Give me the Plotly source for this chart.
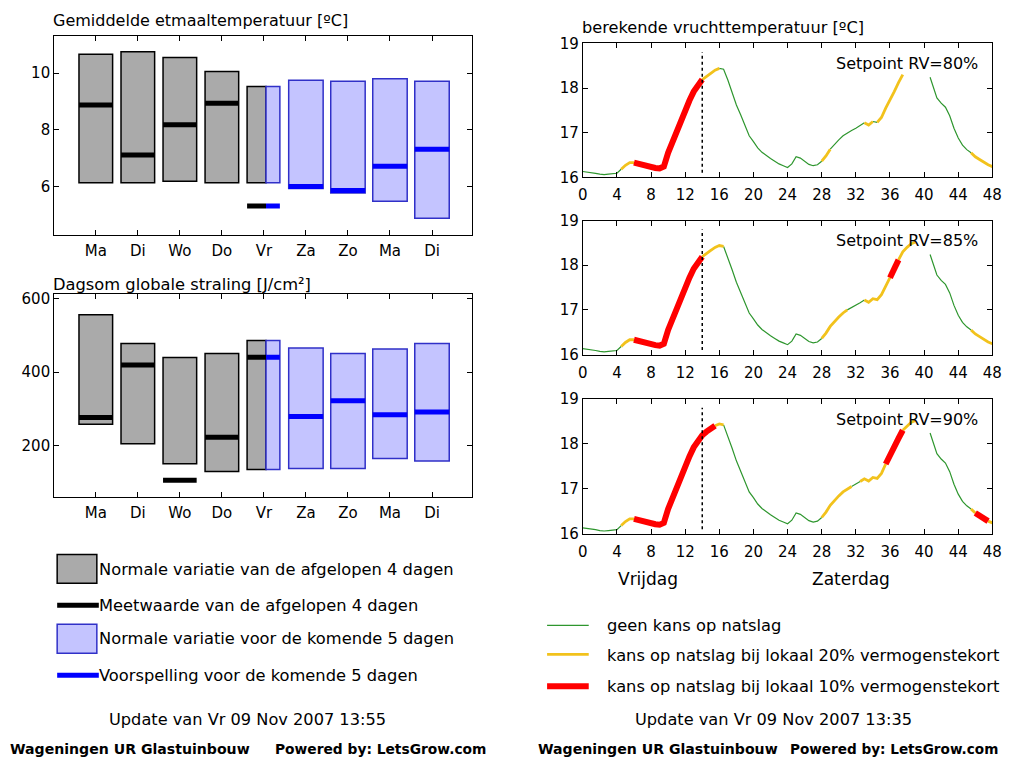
import plotly.graph_objects as go

W, H = 1013, 764
# measured mapping of page pixels to the photographed picture (used to place things)
SX, BX = 0.9934, 2.4
SY, BY = 0.977, 8.3

# ---------------- data: left charts ----------------
DAYS = ["Ma", "Di", "Wo", "Do", "Vr", "Za", "Zo", "Ma", "Di"]
PAST_IDX = [0, 1, 2, 3, 4]
FUT_IDX = [4, 5, 6, 7, 8]

TEMP_HIGH = [10.66, 10.75, 10.54, 10.05, 9.53, 9.75, 9.71, 9.80, 9.71]
TEMP_LOW = [6.15, 6.15, 6.20, 6.15, 6.15, 5.95, 5.79, 5.50, 4.90]
TEMP_MEAS = [8.88, 7.12, 8.18, 8.94, 5.33]       # Ma..Vr (measured)
TEMP_FORECAST = [5.33, 6.02, 5.88, 6.73, 7.32]   # Vr..Di (forecast)

RAD_HIGH = [556, 478, 440, 451, 486, 466, 451, 463, 478]
RAD_LOW = [259, 206, 152, 131, 136, 139, 139, 166, 159]
RAD_MEAS = [277, 420, 107, 224, 441]
RAD_FORECAST = [441, 280, 323, 285, 292]

# ---------------- data: right charts ----------------
HOUR_TICKS = [0, 4, 8, 12, 16, 20, 24, 28, 32, 36, 40, 44, 48]
HOURS = [0.0, 0.5, 1.0, 1.5, 2.0, 2.5, 3.0, 3.5, 4.0, 4.5, 5.0, 5.5, 6.0, 6.5, 7.0, 7.5,
         8.0, 8.5, 9.0, 9.5, 10.0, 10.5, 11.0, 11.5, 12.0, 12.5, 13.0, 13.5, 14.0, 14.5,
         15.0, 15.5, 16.0, 16.5, 17.0, 17.5, 18.0, 18.5, 19.0, 19.5, 20.0, 20.5, 21.0,
         21.5, 22.0, 22.5, 23.0, 23.5, 24.0, 24.5, 25.0, 25.5, 26.0, 26.5, 27.0, 27.5,
         28.0, 28.5, 29.0, 29.5, 30.0, 30.5, 31.0, 31.5, 32.0, 32.5, 33.0, 33.5, 34.0,
         34.5, 35.0, 35.5, 36.0, 36.5, 37.0, 37.5, 38.0, 38.5, 39.0, 40.0, 40.7, 41.0,
         41.5, 42.0, 42.5, 43.0, 43.5, 44.0, 44.5, 45.0, 45.5, 46.0, 46.5, 47.0, 47.5, 48.0]
FRUIT_TEMP = [16.13, 16.12, 16.10, 16.09, 16.07, 16.06, 16.07, 16.08, 16.09, 16.18, 16.27,
              16.33, 16.33, 16.30, 16.28, 16.25, 16.23, 16.21, 16.20, 16.24, 16.55, 16.80,
              17.05, 17.28, 17.50, 17.72, 17.92, 18.08, 18.19, 18.27, 18.33, 18.40, 18.44,
              18.42, 18.18, 17.90, 17.62, 17.40, 17.15, 16.93, 16.80, 16.66, 16.56, 16.48,
              16.42, 16.36, 16.30, 16.26, 16.22, 16.30, 16.46, 16.43, 16.36, 16.29, 16.26,
              16.28, 16.36, 16.48, 16.63, 16.74, 16.84, 16.93, 17.00, 17.05, 17.10, 17.16,
              17.22, 17.17, 17.25, 17.23, 17.34, 17.55, 17.72, 17.92, 18.12, 18.30, 18.40,
              18.48, 18.52, None, 18.24, 18.05, 17.78, 17.66, 17.57, 17.38, 17.10, 16.88,
              16.72, 16.62, 16.55, 16.46, 16.40, 16.33, 16.28, 16.24]

NOW_HOUR = 14
SETPOINTS = ["Setpoint RV=80%", "Setpoint RV=85%", "Setpoint RV=90%"]
YELLOW_RANGES = [
    [(4.3, 6.0), (13.9, 15.9), (28.2, 28.9), (33.2, 34.0), (34.5, 37.6), (45.3, 48)],
    [(4.3, 5.9), (14.0, 16.3), (28.2, 30.9), (32.8, 35.8), (36.9, 39.5), (45.4, 48)],
    [(4.3, 5.9), (15.3, 16.6), (27.8, 31.6), (32.5, 35.3), (37.3, 39.5), (45.4, 46.0), (47.3, 48)],
]
RED_RANGES = [
    [(5.9, 13.9)],
    [(5.9, 14.0), (35.8, 36.9)],
    [(5.9, 15.3), (35.3, 37.3), (46.0, 47.3)],
]
HIDDEN_RANGES = [[(37.6, 40.6)], [], []]

# ---------------- styling ----------------
FONT = "DejaVu Sans"
GRAY = "#aaaaaa"
LBLUE = "#c4c4ff"
BLUE_EDGE = "#3030c8"
GREEN = "#2e962e"
YELLOW = "#f2c21c"
RED = "#ff0000"
CLS_STYLE = {"green": (GREEN, 1.2), "yellow": (YELLOW, 2.8), "red": (RED, 6)}


def px(x):
    return min(((x - BX) / SX) / W, 1.0)


def py(y):
    return 1 - ((y - BY) / SY) / H


fig = go.Figure()

# ---------- left bar charts ----------
PAST_W = [0.8, 0.8, 0.8, 0.8, 0.45]
PAST_OFF = [-0.4, -0.4, -0.4, -0.4, -0.4]
FUT_W = [0.33, 0.82, 0.82, 0.82, 0.82]
FUT_OFF = [0.05, -0.41, -0.41, -0.41, -0.41]


def add_bar_chart(high, low, meas, fc, xa, ya):
    for idx, wid, off, fill, edge in [(PAST_IDX, PAST_W, PAST_OFF, GRAY, "black"),
                                     (FUT_IDX, FUT_W, FUT_OFF, LBLUE, BLUE_EDGE)]:
        fig.add_trace(go.Bar(
            x=idx, y=[high[i] - low[i] for i in idx], base=[low[i] for i in idx],
            width=wid, offset=off, marker=dict(color=fill, line=dict(color=edge, width=1.5)),
            xaxis=xa, yaxis=ya, showlegend=False, hoverinfo="skip"))
    for idx, vals, wid, off, col in [(PAST_IDX, meas, PAST_W, PAST_OFF, "black"),
                                    (FUT_IDX, fc, FUT_W, FUT_OFF, "#0000ff")]:
        xs, ys = [], []
        for k, i in enumerate(idx):
            xs += [i + off[k], i + off[k] + wid[k], None]
            ys += [vals[k], vals[k], None]
        fig.add_trace(go.Scatter(x=xs, y=ys, mode="lines", line=dict(color=col, width=5),
                                 xaxis=xa, yaxis=ya, showlegend=False, hoverinfo="skip"))


add_bar_chart(TEMP_HIGH, TEMP_LOW, TEMP_MEAS, TEMP_FORECAST, "x", "y")
add_bar_chart(RAD_HIGH, RAD_LOW, RAD_MEAS, RAD_FORECAST, "x2", "y2")


# ---------- right line charts ----------
def classify(h, yellow, red, hidden):
    for a, b in hidden:
        if a <= h <= b:
            return None
    for a, b in red:
        if a <= h < b:
            return "red"
    for a, b in yellow:
        if a <= h < b:
            return "yellow"
    return "green"


for c in range(3):
    xa, ya = "x%d" % (c + 3), "y%d" % (c + 3)
    segs = {"green": ([], []), "yellow": ([], []), "red": ([], [])}
    for i in range(len(HOURS) - 1):
        t0, t1 = FRUIT_TEMP[i], FRUIT_TEMP[i + 1]
        if t0 is None or t1 is None:
            continue
        cls = classify((HOURS[i] + HOURS[i + 1]) / 2, YELLOW_RANGES[c], RED_RANGES[c], HIDDEN_RANGES[c])
        if cls is None:
            continue
        xs, ys = segs[cls]
        if xs and xs[-1] == HOURS[i]:
            xs.append(HOURS[i + 1])
            ys.append(t1)
        else:
            if xs:
                xs.append(None)
                ys.append(None)
            xs += [HOURS[i], HOURS[i + 1]]
            ys += [t0, t1]
    for cls in ["green", "yellow", "red"]:
        col, wid = CLS_STYLE[cls]
        fig.add_trace(go.Scatter(x=segs[cls][0], y=segs[cls][1], mode="lines",
                                 line=dict(color=col, width=wid), xaxis=xa, yaxis=ya,
                                 showlegend=False, hoverinfo="skip", connectgaps=False))
    fig.add_shape(type="line", xref=xa, yref=ya, x0=NOW_HOUR, x1=NOW_HOUR, y0=16.1, y1=18.8,
                  line=dict(color="black", width=1.5, dash="dot"))
    fig.add_annotation(xref=xa, yref=ya, x=46.6, y=18.55, text=SETPOINTS[c], showarrow=False,
                       xanchor="right", yanchor="middle", font=dict(size=16, color="black", family=FONT))

# ---------- axes ----------
tickfont = dict(family=FONT, size=15, color="black")
axcommon = dict(showline=True, linecolor="black", linewidth=1, mirror="ticks", ticks="inside",
                ticklen=5, tickcolor="black", showgrid=False, zeroline=False, tickfont=tickfont)

LEFT_X = [px(52), px(473)]
fig.update_layout(
    xaxis=dict(domain=LEFT_X, range=[-0.99, 8.945], tickvals=list(range(9)), ticktext=DAYS,
               anchor="y", ticklabelstandoff=2, **axcommon),
    yaxis=dict(domain=[py(234), py(35)], range=[4.33, 11.31], tickvals=[6, 8, 10], anchor="x", **axcommon),
    xaxis2=dict(domain=LEFT_X, range=[-0.99, 8.945], tickvals=list(range(9)), ticktext=DAYS,
                anchor="y2", ticklabelstandoff=2, **axcommon),
    yaxis2=dict(domain=[py(497), py(293)], range=[60.5, 613.5], tickvals=[200, 400, 600], anchor="x2",
                **axcommon),
)
RIGHT_X = [px(585), px(998)]
right_y = [[py(176.7), py(42.7)], [py(354), py(220)], [py(533.3), py(398.3)]]
for c in range(3):
    n = c + 3
    fig.layout["xaxis%d" % n] = dict(domain=RIGHT_X, range=[0, 48], tickvals=HOUR_TICKS,
                                     anchor="y%d" % n, ticklabelstandoff=4, **axcommon)
    fig.layout["yaxis%d" % n] = dict(domain=right_y[c], range=[16, 19], tickvals=[16, 17, 18, 19],
                                     anchor="x%d" % n, **axcommon)


# ---------- texts ----------
def text(x, y, s, size=16.3, anchor="left", bold=False):
    fig.add_annotation(xref="paper", yref="paper", x=px(x), y=py(y), text=s, showarrow=False,
                       xanchor=anchor, yanchor="middle",
                       font=dict(family=FONT, size=size, color="black",
                                 weight="bold" if bold else "normal"))


text(49, 20, "Gemiddelde etmaaltemperatuur [ºC]", 16)
text(49, 284, "Dagsom globale straling [J/cm²]", 16.3)
text(582, 27, "berekende vruchttemperatuur [ºC]", 16.2)
fig.add_annotation(xref="x5", yref="paper", x=7.6, y=py(579), text="Vrijdag", showarrow=False,
                   yanchor="middle", font=dict(family=FONT, size=17, color="black"))
fig.add_annotation(xref="x5", yref="paper", x=31.4, y=py(579), text="Zaterdag", showarrow=False,
                   yanchor="middle", font=dict(family=FONT, size=17, color="black"))

# left legend
fig.add_shape(type="rect", xref="paper", yref="paper", x0=px(55), x1=px(95), y0=py(583), y1=py(554),
              fillcolor=GRAY, line=dict(color="black", width=1.5))
fig.add_shape(type="line", xref="paper", yref="paper", x0=px(55), x1=px(97), y0=py(605), y1=py(605),
              line=dict(color="black", width=5))
fig.add_shape(type="rect", xref="paper", yref="paper", x0=px(55), x1=px(95), y0=py(653), y1=py(624),
              fillcolor=LBLUE, line=dict(color=BLUE_EDGE, width=1.5))
fig.add_shape(type="line", xref="paper", yref="paper", x0=px(55), x1=px(97), y0=py(675), y1=py(675),
              line=dict(color="#0000ff", width=5))
text(95, 569, "Normale variatie van de afgelopen 4 dagen")
text(95, 605, "Meetwaarde van de afgelopen 4 dagen")
text(95, 638, "Normale variatie voor de komende 5 dagen")
text(95, 675, "Voorspelling voor de komende 5 dagen")
text(247, 719, "Update van Vr 09 Nov 2007 13:55", 16.2, "center")

# right legend
for yy, (col, wid) in [(625, CLS_STYLE["green"]), (654, CLS_STYLE["yellow"]), (686, CLS_STYLE["red"])]:
    fig.add_shape(type="line", xref="paper", yref="paper", x0=px(549), x1=px(591), y0=py(yy), y1=py(yy),
                  line=dict(color=col, width=wid))
text(607, 625, "geen kans op natslag")
text(607, 655, "kans op natslag bij lokaal 20% vermogenstekort")
text(607, 686, "kans op natslag bij lokaal 10% vermogenstekort")
text(777, 719, "Update van Vr 09 Nov 2007 13:35", 16.2, "center")

# footers
text(5, 749, "Wageningen UR Glastuinbouw", 14.1, bold=True)
text(273, 749, "Powered by: LetsGrow.com", 13.8, bold=True)
text(538, 749, "Wageningen UR Glastuinbouw", 14.1, bold=True)
text(1006, 749, "Powered by: LetsGrow.com", 13.6, "right", bold=True)

fig.update_layout(width=W, height=H, margin=dict(l=0, r=0, t=0, b=0), paper_bgcolor="white",
                  plot_bgcolor="white", barmode="overlay", showlegend=False)

fig.write_html("out.html", config={"displayModeBar": False},
               post_script="document.body.style.margin='0px';")
